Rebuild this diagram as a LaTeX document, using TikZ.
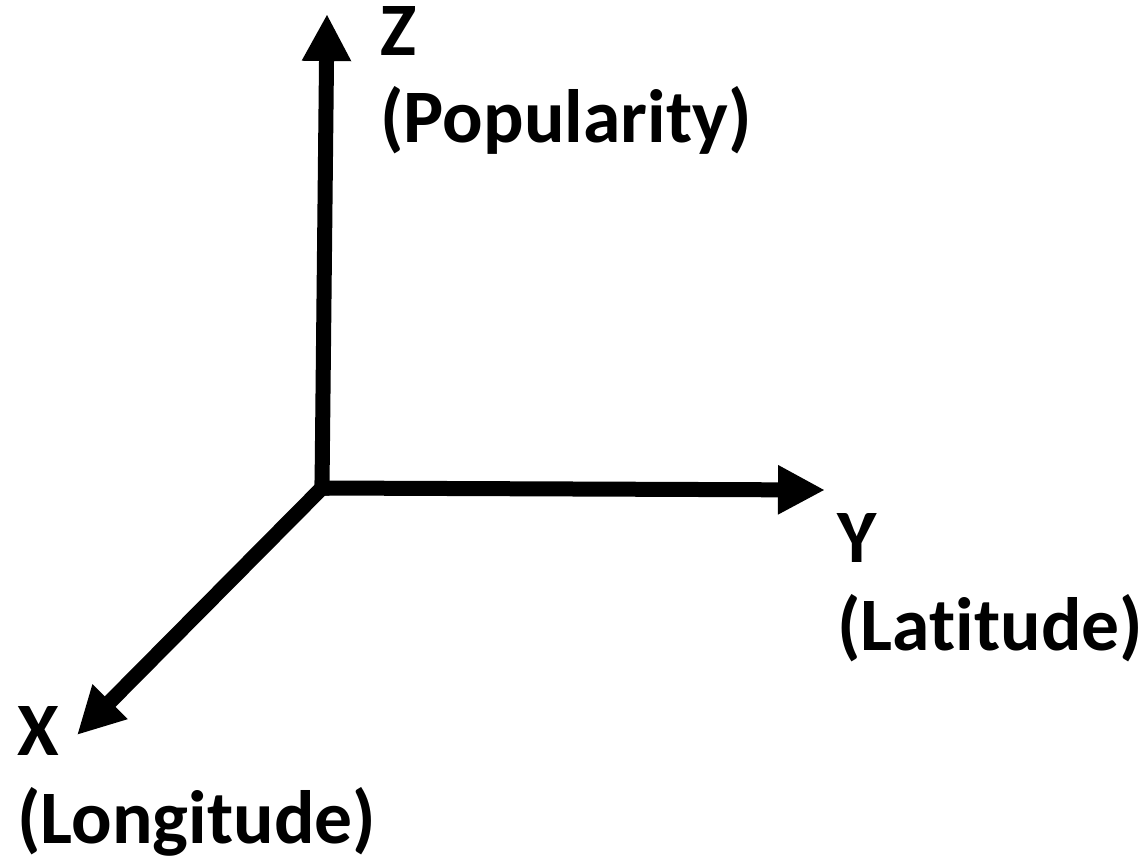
\documentclass[tikz,border=0pt]{standalone}
\usepackage{fontspec}
\setmainfont{Carlito}[Ligatures=NoCommon]
\usetikzlibrary{arrows.meta}
\tikzset{
  axisarr/.style={-{Triangle[length=9.4mm, width=9.2mm]}, line width=3mm, line cap=rect, black},
  axislabel/.style={anchor=base west, inner sep=0pt, align=left,
                    font=\bfseries\fontsize{43}{50}\selectfont},
}

\begin{document}
\begin{tikzpicture}[x=0.2mm, y=-0.2mm]
  \useasboundingbox (0,0) rectangle (1146,863);
  % origin and axis ends
  \coordinate (O) at (322,488);
  \coordinate (zend) at (327,14);
  \coordinate (yend) at (825,490);
  \coordinate (xend) at (77,735);
  \draw[axisarr] (O) -- (zend);
  \draw[axisarr] (O) -- (yend);
  \draw[axisarr] (O) -- (xend);
  % labels (base = last line)
  \node[axislabel] (zlab) at (380,143) {Z\\(Popularity)};
  \node[axislabel] (ylab) at (837,650) {Y\\(Latitude)};
  \node[axislabel] (xlab) at (17,843) {X\\(Longitude)};
\end{tikzpicture}
\end{document}
